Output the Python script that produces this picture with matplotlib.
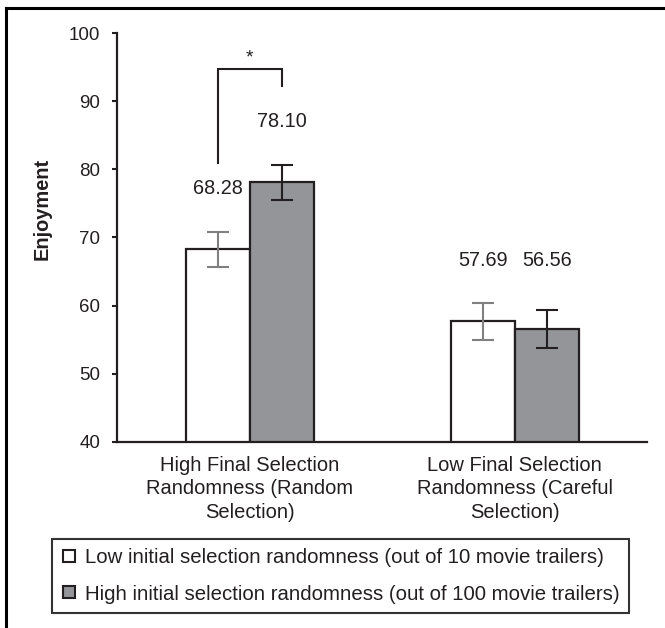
import numpy as np
import matplotlib
matplotlib.use('Agg')
from matplotlib import pyplot as plt
from matplotlib.lines import Line2D

plt.rcParams['font.family'] = ['Liberation Sans', 'DejaVu Sans']

# data
groups = ['High Final Selection\nRandomness (Random\nSelection)',
          'Low Final Selection\nRandomness (Careful\nSelection)']
series_names = ['Low initial selection randomness (out of 10 movie trailers)',
                'High initial selection randomness (out of 100 movie trailers)']
low_initial = [68.28, 57.69]
high_initial = [78.10, 56.56]
low_err = [2.57, 2.70]
high_err = [2.60, 2.79]

ink = '#231f20'
fill_gray = '#939598'

fig = plt.figure(figsize=(6.65, 6.28), dpi=100)
ax = fig.add_axes([0.1764, 0.2967, 0.797, 0.6503])

x = np.arange(len(groups))
w = 0.242

ax.bar(x - w / 2, low_initial, w, color='white', edgecolor=ink, linewidth=1.6, zorder=2)
ax.bar(x + w / 2, high_initial, w, color=fill_gray, edgecolor=ink, linewidth=1.6, zorder=2)
ax.errorbar(x - w / 2, low_initial, yerr=low_err, fmt='none', ecolor='#808080',
            elinewidth=1.5, capsize=8, capthick=1.5, zorder=3)
ax.errorbar(x + w / 2, high_initial, yerr=high_err, fmt='none', ecolor=ink,
            elinewidth=1.5, capsize=8, capthick=1.5, zorder=3)

# value labels (the ones of the second group sit on one line)
offset = 8.95
label_h = [[low_initial[0] + offset, high_initial[0] + offset],
           [max(low_initial[1], high_initial[1]) + offset] * 2]
for i in range(len(groups)):
    ax.text(x[i] - w / 2, label_h[i][0], f'{low_initial[i]:.2f}', ha='center', va='center',
            fontsize=14.3, color=ink)
    ax.text(x[i] + w / 2, label_h[i][1], f'{high_initial[i]:.2f}', ha='center', va='center',
            fontsize=14.3, color=ink)

# significance bracket
bx0, bx1 = x[0] - w / 2, x[0] + w / 2
ax.plot([bx0, bx0, bx1, bx1], [81.0, 94.7, 94.7, 92.3], color=ink, lw=1.5,
        solid_joinstyle='miter')
ax.text(x[0], 96.4, '*', ha='center', va='center', fontsize=14, color=ink)

ax.set_ylim(40, 100)
ax.set_xlim(-0.5, 1.5)
ax.set_yticks(np.arange(40, 101, 10))
ax.set_xticks(x)
ax.set_xticklabels(groups, fontsize=14.5, color=ink, linespacing=1.3)
ax.tick_params(axis='x', length=0, pad=10)
ax.tick_params(axis='y', length=3.8, width=1.5, color=ink, labelsize=13.5,
               labelcolor=ink, pad=8.5)
for s in ['top', 'right']:
    ax.spines[s].set_visible(False)
for s in ['left', 'bottom']:
    ax.spines[s].set_color(ink)
    ax.spines[s].set_linewidth(1.6)

ax.set_ylabel('Enjoyment', fontsize=14.4, fontweight='bold', color=ink)
ax.yaxis.set_label_coords(-0.123, 0.57)

# legend with small square markers
handles = [Line2D([], [], ls='none', marker='s', markersize=8.4, markerfacecolor=c,
                  markeredgecolor=ink, markeredgewidth=1.5)
           for c in ['white', fill_gray]]
leg = fig.legend(handles=handles, labels=series_names, loc='upper left',
                 bbox_to_anchor=(51.7 / 665, 1 - 538.5 / 628), fontsize=14.65,
                 frameon=True, fancybox=False, edgecolor='black', borderpad=0.47,
                 handlelength=0.78, handletextpad=0.38, labelspacing=0.86,
                 borderaxespad=0)
leg.get_frame().set_linewidth(1.5)
for t in leg.get_texts():
    t.set_color(ink)

# border of the cropped figure (top and left only)
fig.add_artist(Line2D([6 / 665, 6 / 665], [0, 1 - 8 / 628], transform=fig.transFigure,
                      color='black', lw=2.2))
fig.add_artist(Line2D([6 / 665, 1], [1 - 8 / 628, 1 - 8 / 628], transform=fig.transFigure,
                      color='black', lw=2.2))

plt.savefig('out.png', dpi=100)
